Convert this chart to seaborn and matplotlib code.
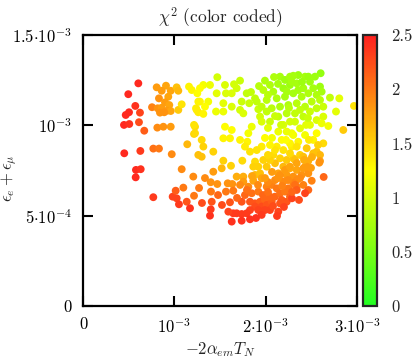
import matplotlib
matplotlib.use("Agg")
import matplotlib.pyplot as plt
import seaborn as sns
import pandas as pd
from matplotlib.colors import LinearSegmentedColormap, Normalize
from matplotlib.cm import ScalarMappable

# -2 alpha_em T_N  (in units of 1e-3)
x_vals = [
    0.606, 0.496, 0.573, 0.504, 0.468, 0.624, 0.449, 0.507, 0.613, 0.671,
    0.452, 0.628, 0.580, 0.632, 0.577, 0.770, 0.982, 1.026, 1.015, 1.099,
    1.081, 1.208, 1.216, 1.051, 1.136, 1.172,
    0.807, 0.909, 0.862, 0.961, 1.026, 1.044, 0.934, 0.832, 0.898, 0.945,
    0.756, 0.818, 0.862, 0.923, 0.961, 0.843, 0.890, 1.044, 1.081, 0.814,
    0.880, 0.961, 0.770, 0.832, 0.972,
    1.161, 1.191, 1.252, 1.263, 1.238, 1.263, 1.227, 1.216, 1.142, 1.263,
    1.318, 1.281, 1.391, 1.471, 1.555, 1.654, 1.720, 1.683, 1.629, 1.566,
    1.464, 1.372, 1.281, 1.245, 1.336, 1.318, 1.457, 1.537, 1.537, 1.629,
    1.720, 1.738, 1.793, 1.821, 1.756, 1.884, 1.920, 1.903,
    1.993, 2.048, 2.158, 2.212, 2.267, 2.358, 2.432, 1.975, 2.084, 2.194,
    2.267, 2.341, 2.413, 2.012, 2.122, 2.212, 2.303, 2.395, 1.957, 2.067,
    2.158, 2.249, 2.341, 2.432, 2.012, 1.939, 2.048, 2.139, 2.231, 2.322,
    2.413,
    2.603, 2.541, 2.468, 2.303, 2.486, 2.286, 2.596, 2.522, 2.358, 2.614,
    2.559, 2.468, 2.705, 2.807, 2.596, 2.505, 2.632, 2.559, 2.486, 2.771,
    2.632, 2.559, 2.322, 2.687, 2.614, 2.486, 2.377, 2.851, 2.968,
    2.286, 2.432, 2.559, 2.632, 2.522, 2.358, 2.286, 2.450, 2.559, 2.596,
    2.522, 2.377, 2.303, 2.467, 2.596,
    2.194, 2.267, 2.139, 2.231, 2.303, 2.176, 2.267, 2.341, 2.122, 2.194,
    2.267, 2.084, 2.158, 2.231, 2.322, 2.413, 2.103, 2.194, 2.267, 2.341,
    2.432, 2.139, 2.231, 2.303, 2.395,
    1.216, 1.227, 1.300, 1.318, 1.427, 1.300, 1.555, 1.629, 1.537, 1.610,
    1.720, 1.800, 1.811, 1.848, 1.957, 1.957, 1.774, 1.829, 1.903, 1.975,
    1.427, 1.519, 1.683, 1.756, 1.884, 1.939, 2.012, 2.048, 2.026, 2.070,
    1.993,
    1.537, 1.621, 1.745, 1.399, 1.471, 1.585, 1.635, 1.756, 1.884, 1.920,
    1.865, 1.865, 1.957, 1.811, 1.402, 1.566, 1.646, 1.410, 1.610, 1.774,
    1.848, 1.920, 1.829, 1.884, 1.939, 1.993, 1.884, 1.957, 2.012, 2.067,
    2.103, 2.048, 2.012, 2.067, 2.103, 2.158, 2.212, 2.267, 2.341, 2.413,
    2.468, 2.122, 2.158, 2.212, 2.249, 2.176, 2.231, 2.158, 2.048, 1.993,
    2.139, 1.920, 1.829, 1.793, 1.738, 1.683, 1.646, 1.592, 1.738, 1.629,
    1.829, 1.391, 1.399, 1.738, 2.341, 2.341, 2.413, 2.468, 2.267, 2.303,
    2.194,
    2.588, 2.636, 2.505, 2.322, 2.341, 2.432, 2.289, 2.450,
    1.796, 1.971, 2.026, 2.081, 2.201, 2.125, 1.957, 1.895, 2.026, 2.136,
    2.245, 2.180, 2.289, 2.366, 2.070, 1.993, 1.917, 1.851, 1.720, 1.687,
    1.522, 1.479, 1.303, 1.271, 1.336, 2.377, 2.421, 2.497, 2.508, 2.574,
    2.475, 2.443, 2.223, 2.103, 2.026, 2.048, 2.169, 2.103, 2.256, 2.377,
    2.464, 2.399, 2.234, 2.136, 2.026, 1.928, 1.840, 2.092,
]

# eps_e + eps_mu  (in units of 1e-3)
y_vals = [
    1.232, 1.172, 1.107, 1.072, 1.057, 1.070, 1.002, 1.007, 1.017, 0.970,
    0.845, 0.858, 0.753, 0.757, 0.712, 0.602, 0.605, 0.596, 0.638, 0.655,
    0.757, 0.716, 0.610, 0.563, 0.577, 0.541,
    1.210, 1.219, 1.191, 1.191, 1.210, 1.191, 1.158, 1.149, 1.127, 1.112,
    1.100, 1.094, 1.097, 1.081, 1.079, 1.070, 1.072, 1.085, 1.116, 0.987,
    0.992, 0.992, 0.871, 0.871, 0.840,
    1.214, 1.195, 1.177, 1.131, 1.094, 1.072, 0.992, 0.952, 0.895, 0.836,
    1.223, 1.205, 1.223, 1.266, 1.223, 1.227, 1.247, 1.205, 1.177, 1.177,
    1.177, 1.131, 1.131, 1.085, 1.103, 1.063, 1.076, 1.122, 1.076, 1.103,
    1.085, 1.131, 1.177, 1.122, 1.066, 1.149, 1.089, 1.131,
    1.247, 1.223, 1.269, 1.251, 1.269, 1.278, 1.269, 1.195, 1.186, 1.205,
    1.223, 1.232, 1.205, 1.140, 1.149, 1.158, 1.177, 1.158, 1.103, 1.094,
    1.103, 1.112, 1.122, 1.103, 1.076, 1.048, 1.020, 1.048, 1.066, 1.066,
    1.048,
    1.288, 1.269, 1.269, 1.274, 1.241, 1.241, 1.214, 1.205, 1.195, 1.186,
    1.168, 1.177, 1.153, 1.149, 1.140, 1.131, 1.103, 1.094, 1.076, 1.076,
    1.048, 1.029, 1.020, 0.996, 1.011, 1.002, 0.983, 0.974, 1.107,
    0.956, 0.946, 0.956, 0.900, 0.919, 0.909, 0.882, 0.873, 0.854, 0.836,
    0.845, 0.836, 0.817, 0.802, 0.802,
    1.002, 1.020, 0.965, 0.965, 0.946, 0.919, 0.900, 0.882, 0.882, 0.863,
    0.845, 0.836, 0.817, 0.808, 0.808, 0.826, 0.790, 0.771, 0.762, 0.753,
    0.771, 0.734, 0.725, 0.716, 0.725,
    1.002, 0.956, 0.919, 0.882, 0.854, 0.826, 0.992, 0.974, 0.928, 0.928,
    0.919, 0.909, 0.956, 0.992, 0.882, 1.020, 0.882, 0.854, 0.863, 0.808,
    0.743, 0.762, 0.716, 0.716, 0.725, 0.734, 0.771, 0.808, 0.985, 0.930,
    0.930,
    0.804, 0.776, 0.804, 0.685, 0.675, 0.679, 0.675, 0.688, 0.799, 0.771,
    0.771, 0.693, 0.707, 0.660, 0.633, 0.633, 0.638, 0.577, 0.574, 0.614,
    0.624, 0.633, 0.577, 0.568, 0.577, 0.587, 0.550, 0.550, 0.559, 0.577,
    0.605, 0.605, 0.660, 0.670, 0.697, 0.725, 0.753, 0.771, 0.790, 0.762,
    0.734, 0.651, 0.624, 0.633, 0.651, 0.587, 0.577, 0.568, 0.531, 0.531,
    0.522, 0.531, 0.531, 0.513, 0.509, 0.513, 0.513, 0.522, 0.472, 0.467,
    0.480, 0.500, 0.535, 0.577, 0.697, 0.660, 0.670, 0.642, 0.605, 0.679,
    0.688,
    0.793, 0.714, 0.693, 0.670, 0.642, 0.624, 0.596, 0.771,
    0.642, 0.614, 0.631, 0.553, 0.548, 0.498, 0.504, 0.487, 0.686, 0.708,
    0.697, 0.664, 0.631, 0.587, 0.742, 0.708, 0.670, 0.719, 0.670, 0.598,
    0.559, 0.614, 0.570, 0.653, 0.708, 0.708, 0.808, 0.764, 0.824, 0.891,
    0.919, 1.002, 0.919, 0.863, 0.836, 0.891, 1.002, 1.051, 1.096, 1.085,
    1.040, 1.240, 1.186, 1.229, 1.168, 1.217, 1.184, 1.267,
]

# chi^2 (colour coded)
chi2_vals = [
    2.45, 2.45, 2.40, 2.45, 2.45, 2.30, 2.45, 2.40, 2.25, 2.15,
    2.45, 2.35, 2.45, 2.40, 2.45, 2.35, 2.30, 2.30, 2.15, 2.00,
    1.90, 1.90, 2.00, 2.35, 2.20, 2.40,
    1.80, 1.75, 1.80, 1.75, 1.60, 1.65, 1.75, 1.85, 1.80, 1.75,
    1.95, 1.85, 1.80, 1.80, 1.75, 1.85, 1.85, 1.55, 1.40, 1.90,
    1.85, 1.80, 2.05, 2.00, 1.90,
    1.30, 1.30, 1.25, 1.30, 1.35, 1.35, 1.45, 1.50, 1.65, 1.60,
    1.20, 1.25, 1.15, 1.00, 1.05, 1.00, 0.95, 1.00, 1.05, 1.05,
    1.10, 1.20, 1.30, 1.35, 1.25, 1.30, 1.15, 1.10, 1.15, 1.05,
    1.00, 0.95, 0.90, 0.95, 1.05, 0.90, 0.95, 0.90,
    0.80, 0.80, 0.75, 0.70, 0.75, 0.70, 0.75, 0.85, 0.80, 0.70,
    0.70, 0.75, 0.75, 0.85, 0.80, 0.75, 0.75, 0.80, 0.90, 0.85,
    0.80, 0.80, 0.85, 0.85, 0.90, 1.00, 0.95, 0.90, 0.85, 0.90,
    0.90,
    0.65, 0.70, 0.70, 0.75, 0.70, 0.75, 0.70, 0.75, 0.75, 0.75,
    0.80, 0.80, 0.90, 1.10, 0.85, 0.85, 0.95, 0.90, 0.95, 1.10,
    1.05, 1.05, 1.00, 1.20, 1.15, 1.10, 1.10, 1.55, 1.40,
    1.20, 1.20, 1.25, 1.45, 1.30, 1.30, 1.35, 1.55, 1.60, 1.65,
    1.60, 1.50, 1.55, 1.70, 1.80,
    1.05, 1.00, 1.15, 1.15, 1.20, 1.25, 1.30, 1.40, 1.35, 1.40,
    1.45, 1.45, 1.50, 1.55, 1.60, 1.60, 1.60, 1.65, 1.70, 1.75,
    1.75, 1.75, 1.80, 1.85, 1.85,
    1.40, 1.45, 1.45, 1.50, 1.50, 1.60, 1.25, 1.25, 1.30, 1.30,
    1.30, 1.30, 1.20, 1.15, 1.35, 1.05, 1.35, 1.40, 1.40, 1.50,
    1.80, 1.65, 1.70, 1.70, 1.65, 1.60, 1.55, 1.50, 1.10, 1.20,
    1.25,
    1.50, 1.50, 1.45, 1.85, 1.85, 1.85, 1.85, 1.80, 1.45, 1.50,
    1.50, 1.75, 1.75, 1.90, 2.00, 2.00, 2.00, 2.20, 2.20, 2.10,
    2.05, 2.00, 2.20, 2.20, 2.15, 2.10, 2.25, 2.25, 2.20, 2.15,
    2.10, 2.10, 1.95, 1.95, 1.90, 1.85, 1.80, 1.75, 1.75, 1.80,
    1.85, 2.00, 2.05, 2.00, 2.00, 2.15, 2.20, 2.20, 2.30, 2.30,
    2.30, 2.30, 2.30, 2.35, 2.35, 2.35, 2.35, 2.30, 2.40, 2.40,
    2.40, 2.40, 2.35, 2.20, 1.90, 1.95, 1.95, 2.10, 2.10, 1.95,
    1.90,
    1.85, 2.10, 1.95, 2.05, 2.15, 2.30, 2.30, 1.80,
    2.05, 2.10, 2.05, 2.25, 2.30, 2.35, 2.35, 2.40, 1.90, 1.85,
    1.90, 1.95, 2.10, 2.25, 1.80, 1.80, 1.90, 1.75, 1.90, 2.10,
    2.25, 2.10, 2.25, 2.00, 1.90, 1.90, 1.70, 1.80, 1.70, 1.50,
    1.35, 1.10, 1.25, 1.40, 1.45, 1.30, 1.00, 0.95, 0.85, 0.90,
    0.95, 0.70, 0.75, 0.75, 0.85, 0.85, 0.90, 0.80,
]

x_ticks = [0, 1e-3, 2e-3, 3e-3]
x_ticklabels = ["0", r"$10^{-3}$", r"$2{\cdot}10^{-3}$", r"$3{\cdot}10^{-3}$"]
y_ticks = [0, 5e-4, 1e-3, 1.5e-3]
y_ticklabels = ["0", r"$5{\cdot}10^{-4}$", r"$10^{-3}$", r"$1.5{\cdot}10^{-3}$"]
cb_ticks = [0, 0.5, 1, 1.5, 2, 2.5]
cb_ticklabels = ["0", "0.5", "1", "1.5", "2", "2.5"]

df = pd.DataFrame({
    "x": [v * 1e-3 for v in x_vals],
    "y": [v * 1e-3 for v in y_vals],
    "chi2": chi2_vals,
})

sns.set_style("white")
plt.rcParams["font.family"] = "serif"
plt.rcParams["font.serif"] = ["cmr10", "DejaVu Serif"]
plt.rcParams["mathtext.fontset"] = "cm"
plt.rcParams["axes.unicode_minus"] = False
plt.rcParams["axes.formatter.use_mathtext"] = True

# green -> yellow -> red palette
cmap = LinearSegmentedColormap.from_list(
    "chi2", [(0.0, "#22ff22"), (0.5, "#ffff00"), (1.0, "#ff2020")])
norm = Normalize(vmin=0, vmax=2.5)

fig = plt.figure(figsize=(4.15, 3.6), dpi=100)
ax = fig.add_axes([0.200, 0.150, 0.660, 0.753])
cax = fig.add_axes([0.875, 0.150, 0.034, 0.753])

sns.scatterplot(data=df, x="x", y="y", hue="chi2", palette=cmap, hue_norm=norm,
                s=32, linewidth=0, legend=False, ax=ax)

ax.set_xlim(0, 3e-3)
ax.set_ylim(0, 1.5e-3)
ax.set_xticks(x_ticks)
ax.set_xticklabels(x_ticklabels)
ax.set_yticks(y_ticks)
ax.set_yticklabels(y_ticklabels)
ax.xaxis.set_ticks_position("both")
ax.yaxis.set_ticks_position("both")
ax.tick_params(direction="in", length=7, width=1.5, labelsize=12, pad=8,
               colors="black")
for sp in ax.spines.values():
    sp.set_linewidth(1.6)
    sp.set_color("black")

ax.set_xlabel(r"$-2\alpha_{em}T_N$", fontsize=12, labelpad=3)
ax.set_ylabel(r"$\epsilon_e+\epsilon_\mu$", fontsize=12)
ax.yaxis.set_label_coords(-0.232, 0.47)
ax.set_title(r"$\chi^2$ (color coded)", fontsize=12.5, pad=9)

cb = fig.colorbar(ScalarMappable(norm=norm, cmap=cmap), cax=cax, ticks=cb_ticks)
cb.ax.set_yticklabels(cb_ticklabels)
cb.ax.yaxis.set_ticks_position("both")
cb.ax.tick_params(direction="in", length=4, width=1.2, labelsize=12, pad=10)
cb.ax.yaxis.set_label_position("right")
for lbl in cb.ax.get_yticklabels():
    lbl.set_visible(True)
cb.ax.tick_params(labelleft=False, labelright=True)
cb.outline.set_linewidth(1.6)

fig.savefig("out.png", dpi=100)
